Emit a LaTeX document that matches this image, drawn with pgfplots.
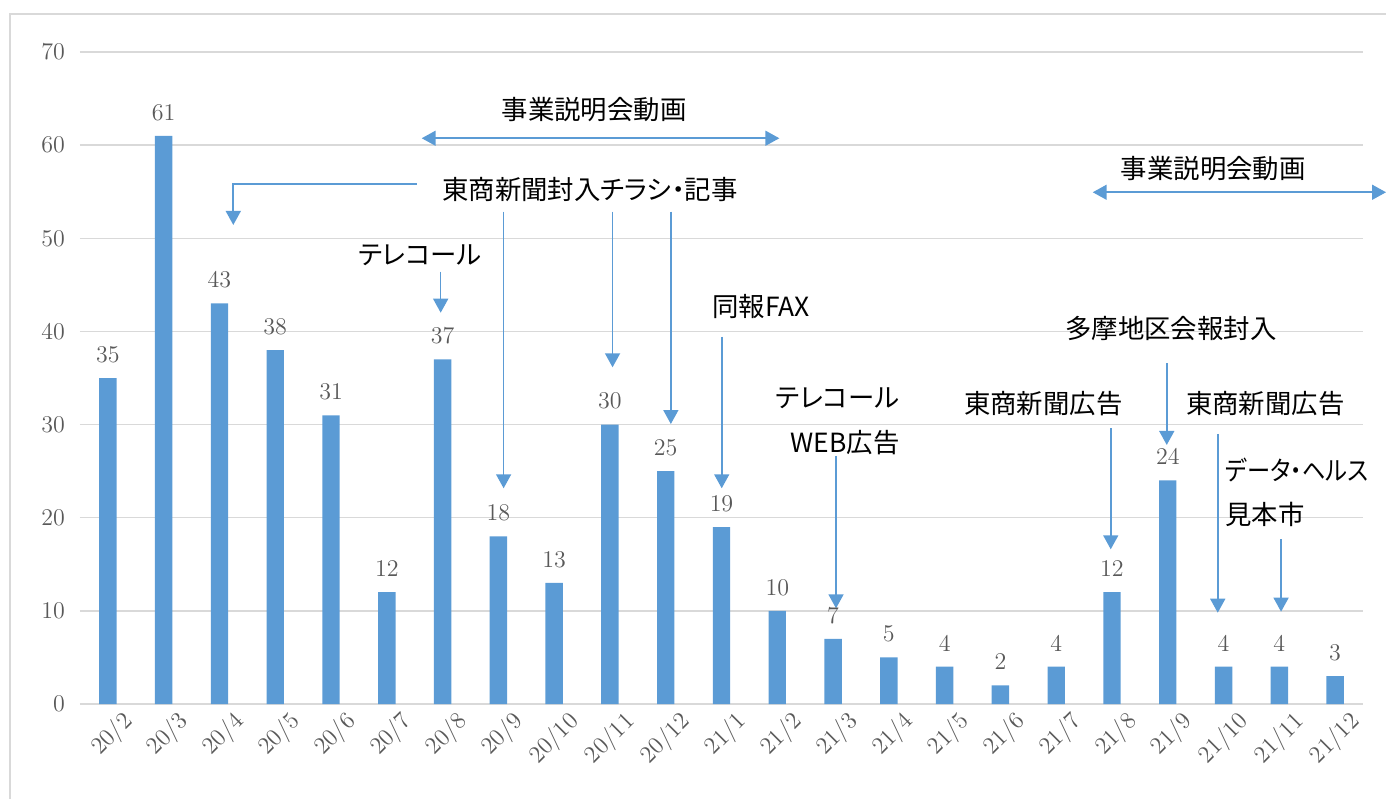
\documentclass[border=0pt]{standalone}
\usepackage{pgfplots}
\pgfplotsset{compat=1.18}
\usepackage{fontspec}
\newfontfamily\cjk[RawFeature=+palt]{Noto Sans CJK JP}
\usetikzlibrary{arrows.meta}
\definecolor{barblue}{HTML}{5B9BD5}
\definecolor{gridgray}{HTML}{D9D9D9}
\definecolor{labgray}{HTML}{595959}
\newcommand\jp{\cjk\fontsize{13.2}{16}\selectfont}
\begin{document}
\begin{tikzpicture}
\useasboundingbox (-40pt,-47pt) rectangle (653pt,352pt);
\draw[gridgray, line width=0.75pt] (-35pt,-50pt) -- (-35pt,345pt) -- (660pt,345pt);
\begin{axis}[
  at={(0,0)}, anchor=south west,
  scale only axis, width=641.5pt, height=326pt,
  xmin=-0.5, xmax=22.5, ymin=0, ymax=70,
  clip=false,
  axis x line*=bottom, axis y line*=left,
  y axis line style={draw=none},
  x axis line style={draw=gridgray, line width=0.75pt},
  ytick={0,10,...,70},
  ymajorgrids, grid style={draw=gridgray, line width=0.75pt},
  ytick style={draw=none},
  xtick={0,...,22},
  xticklabels={20/2,20/3,20/4,20/5,20/6,20/7,20/8,20/9,20/10,20/11,20/12,21/1,21/2,21/3,21/4,21/5,21/6,21/7,21/8,21/9,21/10,21/11,21/12},
  xtick style={draw=none},
  extra x ticks={-0.5,0.5,...,22.5},
  extra x tick labels={},
  extra x tick style={grid=none, tick align=outside, major tick length=4pt, major tick style={draw=gridgray, line width=0.75pt}},
  ticklabel style={font=\fontsize{12}{14}\selectfont, text=labgray},
  xticklabel style={rotate=45, anchor=north east, xshift=6pt, yshift=-3pt},
  yticklabel style={xshift=-4pt},
  /pgf/number format/1000 sep={},
]
\addplot[ybar, bar width=8.7pt, fill=barblue, draw=none,
  nodes near coords,
  every node near coord/.append style={font=\fontsize{12}{14}\selectfont, text=labgray, yshift=4.3pt}]
coordinates {
(0,35) (1,61) (2,43) (3,38) (4,31) (5,12) (6,37) (7,18) (8,13) (9,30) (10,25) (11,19)
(12,10) (13,7) (14,5) (15,4) (16,2) (17,4) (18,12) (19,24) (20,4) (21,4) (22,3)
};
% annotations
\tikzset{arr/.style={draw=barblue, line width=0.8pt, -{Triangle[width=7.5pt,length=7pt]}},
         darr/.style={draw=barblue, line width=0.8pt, {Triangle[width=7.5pt,length=7pt]}-{Triangle[width=7.5pt,length=7pt]}}}
\draw[darr] (axis cs:5.626,60.74) -- (axis cs:12.037,60.74);
\node[font=\jp] at (axis cs:8.715,63.78) {事業説明会動画};
\draw[darr] (axis cs:17.655,54.94) -- (axis cs:22.913,54.94);
\node[font=\jp] at (axis cs:19.817,57.52) {事業説明会動画};
\node[font=\jp] at (axis cs:8.643,55.19) {東商新聞封入チラシ・記事};
\draw[arr] (axis cs:5.536,55.83) -| (axis cs:2.248,51.43);
\draw[arr] (axis cs:7.094,52.86) -- (axis cs:7.094,23.16);
\draw[arr] (axis cs:9.047,52.86) -- (axis cs:9.047,36.15);
\draw[arr] (axis cs:10.092,52.86) -- (axis cs:10.092,30.06);
\node[font=\jp] at (axis cs:5.595,48.21) {テレコール};
\draw[arr] (axis cs:5.966,46.41) -- (axis cs:5.966,42.01);
\node[font=\jp] at (axis cs:11.709,42.66) {同報FAX};
\draw[arr] (axis cs:11.004,39.44) -- (axis cs:11.004,23.16);
\node[font=\jp] at (axis cs:13.080,32.85) {テレコール};
\node[font=\jp] at (axis cs:13.215,28.05) {WEB広告};
\draw[arr] (axis cs:13.053,26.63) -- (axis cs:13.053,10.27);
\node[font=\jp] at (axis cs:19.056,40.34) {多摩地区会報封入};
\draw[arr] (axis cs:18.982,36.58) -- (axis cs:18.982,27.81);
\node[font=\jp] at (axis cs:16.770,32.28) {東商新聞広告};
\draw[arr] (axis cs:17.978,29.60) -- (axis cs:17.978,16.61);
\node[font=\jp] at (axis cs:20.750,32.28) {東商新聞広告};
\draw[arr] (axis cs:19.896,28.99) -- (axis cs:19.896,9.80);
\node[font=\jp, anchor=west, inner sep=0pt] at (axis cs:20.027,25.12) {\scalebox{0.88}[1]{データ・ヘルス}};
\node[font=\jp, anchor=west, inner sep=0pt] at (axis cs:20.027,20.40) {見本市};
\draw[arr] (axis cs:21.031,17.68) -- (axis cs:21.031,9.91);
\end{axis}
\end{tikzpicture}
\end{document}
